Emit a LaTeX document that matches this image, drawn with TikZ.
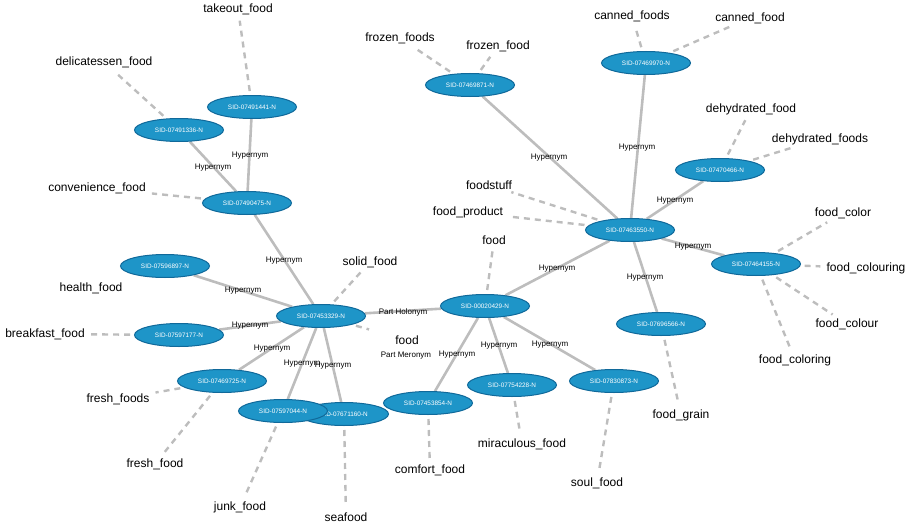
\documentclass[tikz,border=0pt]{standalone}
\usepackage{fontspec}
\setmainfont{Liberation Sans}
\usetikzlibrary{shapes.geometric,backgrounds}
\definecolor{nodefill}{HTML}{1E95C8}
\definecolor{nodedraw}{HTML}{10699A}
\definecolor{edgegray}{HTML}{BDBDBD}
\tikzset{
  syn/.style={ellipse, draw=nodedraw, fill=nodefill, line width=1pt,
    minimum width=89pt, minimum height=23pt, inner sep=0pt, text=white,
    font=\fontsize{6.4}{7}\selectfont},
  lemma/.style={font=\fontsize{12}{14}\selectfont, inner sep=1pt},
  elab/.style={font=\fontsize{8}{9}\selectfont, inner sep=0pt},
  rel/.style={draw=edgegray, line width=2.6pt},
  lem/.style={draw=edgegray, line width=2.4pt, dash pattern=on 6pt off 5pt,
    shorten <=4pt, shorten >=5pt},
}
\begin{document}
\begin{tikzpicture}[x=1pt,y=-1pt]
\useasboundingbox (0,0) rectangle (910,527);

% synset nodes
\node[syn] (s491441) at (252,107) {SID-07491441-N};
\node[syn] (s491336) at (179,130) {SID-07491336-N};
\node[syn] (s490475) at (247,203) {SID-07490475-N};
\node[syn] (s469871) at (470,85) {SID-07469871-N};
\node[syn] (s469970) at (646,63) {SID-07469970-N};
\node[syn] (s463550) at (630,230) {SID-07463550-N};
\node[syn] (s470466) at (720,170) {SID-07470466-N};
\node[syn] (s464155) at (756,264) {SID-07464155-N};
\node[syn] (s696566) at (661,324) {SID-07696566-N};
\node[syn] (s020429) at (485,306) {SID-00020429-N};
\node[syn] (s754228) at (512,385) {SID-07754228-N};
\node[syn] (s830873) at (614,381) {SID-07830873-N};
\node[syn] (s453854) at (428,403) {SID-07453854-N};
\node[syn] (s671160) at (344,414) {SID-07671160-N};
\node[syn] (s597044) at (283,411) {SID-07597044-N};
\node[syn] (s453329) at (321,316) {SID-07453329-N};
\node[syn] (s596897) at (165,266) {SID-07596897-N};
\node[syn] (s597177) at (179,335) {SID-07597177-N};
\node[syn] (s469725) at (222,381) {SID-07469725-N};

% lemma labels
\node[lemma] (ltakeout) at (238,9) {takeout\_food};
\node[lemma] (ldeli) at (104,62) {delicatessen\_food};
\node[lemma] (lconv) at (97,188) {convenience\_food};
\node[lemma] (lfrozens) at (400,38) {frozen\_foods};
\node[lemma] (lfrozen) at (498,46) {frozen\_food};
\node[lemma] (lcanneds) at (632,16) {canned\_foods};
\node[lemma] (lcanned) at (750,18) {canned\_food};
\node[lemma] (lstuff) at (489,185) {foodstuff};
\node[lemma] (lproduct) at (468,212) {food\_product};
\node[lemma] (ldehyd) at (751,109) {dehydrated\_food};
\node[lemma] (ldehyds) at (820,139) {dehydrated\_foods};
\node[lemma] (lcolor) at (843,213) {food\_color};
\node[lemma] (lcolouring) at (866,268) {food\_colouring};
\node[lemma] (lcolour) at (847,324) {food\_colour};
\node[lemma] (lcoloring) at (795,360) {food\_coloring};
\node[lemma] (lgrain) at (681,415) {food\_grain};
\node[lemma] (lhealth) at (91,288) {health\_food};
\node[lemma] (lbreak) at (45,334) {breakfast\_food};
\node[lemma] (lfreshs) at (118,399) {fresh\_foods};
\node[lemma] (lfresh) at (155,464) {fresh\_food};
\node[lemma] (ljunk) at (240,507) {junk\_food};
\node[lemma] (lsea) at (346,517) {seafood};
\node[lemma] (lsolid) at (370,262) {solid\_food};
\node[lemma] (lfoodtop) at (494,240) {food};
\node[lemma] (lfoodmid) at (407,340) {food};
\node[lemma] (lcomfort) at (430,470) {comfort\_food};
\node[lemma] (lmirac) at (522,444) {miraculous\_food};
\node[lemma] (lsoul) at (597,483) {soul\_food};

\begin{scope}[on background layer]
% relation edges
\draw[rel] (s491336) -- (s490475);
\draw[rel] (s491441) -- (s490475);
\draw[rel] (s490475) -- (s453329);
\draw[rel] (s469871) -- (s463550);
\draw[rel] (s469970) -- (s463550);
\draw[rel] (s470466) -- (s463550);
\draw[rel] (s464155) -- (s463550);
\draw[rel] (s696566) -- (s463550);
\draw[rel] (s020429) -- (s463550);
\draw[rel] (s453329) -- (s020429);
\draw[rel] (s596897) -- (s453329);
\draw[rel] (s597177) -- (s453329);
\draw[rel] (s469725) -- (s453329);
\draw[rel] (s597044) -- (s453329);
\draw[rel] (s671160) -- (s453329);
\draw[rel] (s453854) -- (s020429);
\draw[rel] (s754228) -- (s020429);
\draw[rel] (s830873) -- (s020429);
% lemma edges
\draw[lem] (s491441) -- (ltakeout);
\draw[lem] (s491336) -- (ldeli);
\draw[lem] (s490475) -- (lconv);
\draw[lem] (s469871) -- (lfrozens);
\draw[lem] (s469871) -- (lfrozen);
\draw[lem] (s469970) -- (lcanneds);
\draw[lem] (s469970) -- (lcanned);
\draw[lem] (s463550) -- (lstuff);
\draw[lem] (s463550) -- (lproduct);
\draw[lem] (s470466) -- (ldehyd);
\draw[lem] (s470466) -- (ldehyds);
\draw[lem] (s464155) -- (lcolor);
\draw[lem] (s464155) -- (lcolouring);
\draw[lem] (s464155) -- (lcolour);
\draw[lem] (s464155) -- (lcoloring);
\draw[lem] (s696566) -- (lgrain);
\draw[lem] (s597177) -- (lbreak);
\draw[lem] (s469725) -- (lfreshs);
\draw[lem] (s469725) -- (lfresh);
\draw[lem] (s597044) -- (ljunk);
\draw[lem] (s671160) -- (lsea);
\draw[lem] (s453329) -- (lsolid);
\draw[lem, shorten >=26pt] (s453329) -- (lfoodmid);
\draw[lem] (s020429) -- (lfoodtop);
\draw[lem] (s453854) -- (lcomfort);
\draw[lem] (s754228) -- (lmirac);
\draw[lem] (s830873) -- (lsoul);
\end{scope}

% edge labels
\node[elab] (e1) at (213,168) {Hypernym};
\node[elab] (e2) at (250,156) {Hypernym};
\node[elab] (e3) at (284,261) {Hypernym};
\node[elab] (e4) at (549,158) {Hypernym};
\node[elab] (e5) at (637,148) {Hypernym};
\node[elab] (e6) at (675,201) {Hypernym};
\node[elab] (e7) at (693,247) {Hypernym};
\node[elab] (e8) at (645,278) {Hypernym};
\node[elab] (e9) at (557,269) {Hypernym};
\node[elab] (e10) at (403,312) {Part Holonym};
\node[elab] (e11) at (406,356) {Part Meronym};
\node[elab] (e12) at (243,291) {Hypernym};
\node[elab] (e13) at (250,326) {Hypernym};
\node[elab] (e14) at (272,349) {Hypernym};
\node[elab] (e15) at (302,364) {Hypernym};
\node[elab] (e16) at (333,366) {Hypernym};
\node[elab] (e17) at (457,355) {Hypernym};
\node[elab] (e18) at (499,346) {Hypernym};
\node[elab] (e19) at (550,345) {Hypernym};
\end{tikzpicture}
\end{document}
